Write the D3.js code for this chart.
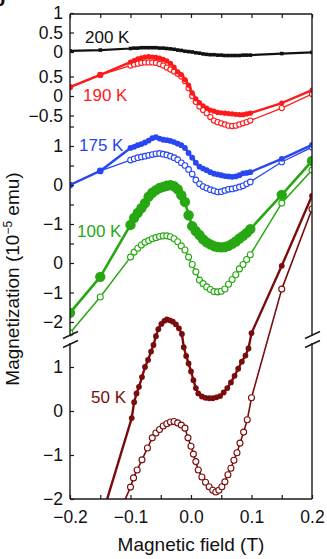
<!DOCTYPE html>
<html>
<head>
<meta charset="utf-8">
<script src="https://cdn.jsdelivr.net/npm/d3@7/dist/d3.min.js"></script>
<style>
  body { margin: 0; background: #fff; }
  svg { display: block; font-family: "Liberation Sans", Arial, sans-serif; }
</style>
</head>
<body>
<svg id="chart" width="327" height="559"></svg>
<script>
// ---- data (field in T, magnetization in 1e-5 emu, each curve relative to its own zero) ----
const xTickValues = [-0.2, -0.1, 0.0, 0.1, 0.2];
const xMinorTicks = [-0.2, -0.15, -0.1, -0.05, 0, 0.05, 0.1, 0.15, 0.2];

const ticks200 = [1, 0.5, 0];
const ticks190 = [0.5, 0, -0.5];
const ticks175 = [1, 0, -1];
const ticks100 = [0, -1, -2];
const ticks50 = [1, 0, -1, -2];

const k200 = [[-0.2, 0.03], [-0.15, 0.05], [-0.1, 0.09], [-0.094, 0.1], [-0.088, 0.1], [-0.082, 0.11], [-0.076, 0.11],
  [-0.07, 0.11], [-0.064, 0.11], [-0.058, 0.11], [-0.052, 0.1], [-0.046, 0.1], [-0.04, 0.09], [-0.034, 0.08],
  [-0.028, 0.07], [-0.022, 0.05], [-0.016, 0.04], [-0.01, 0.02], [-0.004, 0.01], [0.002, 0.0], [0.008, -0.02],
  [0.014, -0.03], [0.02, -0.05], [0.026, -0.06], [0.032, -0.07], [0.038, -0.07], [0.044, -0.08], [0.05, -0.08],
  [0.056, -0.09], [0.062, -0.09], [0.068, -0.09], [0.074, -0.09], [0.08, -0.09], [0.086, -0.08], [0.092, -0.08],
  [0.098, -0.08], [0.15, -0.04], [0.2, -0.01]];

const k190Filled = [[-0.2, 0.23], [-0.15, 0.54], [-0.1, 0.87], [-0.094, 0.91], [-0.088, 0.95], [-0.082, 0.98],
  [-0.076, 1.0], [-0.07, 1.01], [-0.064, 1.0], [-0.058, 0.99], [-0.052, 0.97], [-0.046, 0.94], [-0.04, 0.9],
  [-0.034, 0.84], [-0.028, 0.74], [-0.022, 0.62], [-0.016, 0.55], [-0.01, 0.42], [-0.004, 0.28], [0.002, 0.08],
  [0.008, -0.07], [0.014, -0.17], [0.02, -0.25], [0.026, -0.31], [0.032, -0.36], [0.038, -0.39], [0.044, -0.42],
  [0.05, -0.43], [0.056, -0.44], [0.062, -0.45], [0.068, -0.46], [0.074, -0.47], [0.08, -0.48], [0.086, -0.48],
  [0.092, -0.46], [0.098, -0.44], [0.15, -0.18], [0.2, 0.15]];

const k190Open = [[-0.2, 0.23], [-0.15, 0.54], [-0.1, 0.78], [-0.094, 0.81], [-0.088, 0.83], [-0.082, 0.85],
  [-0.076, 0.86], [-0.07, 0.86], [-0.064, 0.86], [-0.058, 0.85], [-0.052, 0.82], [-0.046, 0.78], [-0.04, 0.73],
  [-0.034, 0.68], [-0.028, 0.63], [-0.022, 0.57], [-0.016, 0.5], [-0.01, 0.38], [-0.004, 0.2], [0.002, 0.0],
  [0.008, -0.15], [0.014, -0.27], [0.02, -0.36], [0.026, -0.44], [0.032, -0.54], [0.038, -0.63], [0.044, -0.67],
  [0.05, -0.7], [0.056, -0.73], [0.062, -0.76], [0.068, -0.77], [0.074, -0.76], [0.08, -0.73], [0.086, -0.7],
  [0.092, -0.67], [0.098, -0.63], [0.15, -0.31], [0.2, 0.05]];

const k175Filled = [[-0.2, 0.0], [-0.15, 0.36], [-0.1, 0.95], [-0.094, 0.98], [-0.088, 1.02], [-0.082, 1.05],
  [-0.076, 1.09], [-0.07, 1.14], [-0.064, 1.2], [-0.058, 1.23], [-0.052, 1.19], [-0.046, 1.16], [-0.04, 1.15],
  [-0.034, 1.13], [-0.028, 1.1], [-0.022, 1.06], [-0.016, 1.02], [-0.01, 0.95], [-0.004, 0.82], [0.002, 0.7],
  [0.008, 0.57], [0.014, 0.47], [0.02, 0.42], [0.026, 0.38], [0.032, 0.33], [0.038, 0.29], [0.044, 0.27],
  [0.05, 0.25], [0.056, 0.23], [0.062, 0.22], [0.068, 0.21], [0.074, 0.22], [0.08, 0.25], [0.086, 0.3],
  [0.092, 0.31], [0.098, 0.33], [0.15, 0.67], [0.2, 1.03]];

const k175Open = [[-0.2, 0.0], [-0.15, 0.36], [-0.1, 0.64], [-0.094, 0.67], [-0.088, 0.7], [-0.082, 0.72],
  [-0.076, 0.74], [-0.07, 0.76], [-0.064, 0.78], [-0.058, 0.8], [-0.052, 0.81], [-0.046, 0.79], [-0.04, 0.77],
  [-0.034, 0.74], [-0.028, 0.7], [-0.022, 0.65], [-0.016, 0.57], [-0.01, 0.5], [-0.004, 0.4], [0.002, 0.28],
  [0.008, 0.13], [0.014, 0.03], [0.02, -0.04], [0.026, -0.08], [0.032, -0.12], [0.038, -0.15], [0.044, -0.18],
  [0.05, -0.17], [0.056, -0.14], [0.062, -0.11], [0.068, -0.1], [0.074, -0.08], [0.08, -0.05], [0.086, -0.02],
  [0.092, 0.03], [0.098, 0.08], [0.15, 0.59], [0.2, 0.97]];

const k100Filled = [[-0.2, -1.69], [-0.15, -0.47], [-0.1, 1.29], [-0.094, 1.53], [-0.088, 1.7], [-0.082, 1.86],
  [-0.076, 2.03], [-0.07, 2.25], [-0.064, 2.38], [-0.058, 2.47], [-0.052, 2.54], [-0.046, 2.58], [-0.04, 2.62],
  [-0.034, 2.64], [-0.028, 2.6], [-0.022, 2.5], [-0.016, 2.3], [-0.01, 2.07], [-0.004, 1.62], [0.002, 1.25],
  [0.008, 1.08], [0.014, 0.95], [0.02, 0.8], [0.026, 0.7], [0.032, 0.63], [0.038, 0.57], [0.044, 0.54],
  [0.05, 0.53], [0.056, 0.54], [0.062, 0.58], [0.068, 0.65], [0.074, 0.73], [0.08, 0.83], [0.086, 0.92],
  [0.092, 1.02], [0.098, 1.15], [0.15, 2.31], [0.2, 3.46]];

const k100Open = [[-0.2, -2.37], [-0.15, -1.15], [-0.1, 0.2], [-0.094, 0.37], [-0.088, 0.5], [-0.082, 0.61],
  [-0.076, 0.7], [-0.07, 0.76], [-0.064, 0.82], [-0.058, 0.86], [-0.052, 0.9], [-0.046, 0.92], [-0.04, 0.92],
  [-0.034, 0.89], [-0.028, 0.82], [-0.022, 0.72], [-0.016, 0.58], [-0.01, 0.44], [-0.004, 0.2], [0.002, -0.05],
  [0.008, -0.3], [0.014, -0.58], [0.02, -0.7], [0.026, -0.81], [0.032, -0.9], [0.038, -0.97], [0.044, -0.98],
  [0.05, -0.96], [0.056, -0.88], [0.062, -0.72], [0.068, -0.56], [0.074, -0.4], [0.08, -0.2], [0.086, -0.05],
  [0.092, 0.12], [0.098, 0.28], [0.15, 2.03], [0.2, 3.15]];

const k50Filled = [[-0.15, -2.52], [-0.098, -0.16], [-0.094, 0.2], [-0.09, 0.4], [-0.086, 0.55], [-0.081, 0.77],
  [-0.076, 1.0], [-0.071, 1.16], [-0.066, 1.35], [-0.062, 1.5], [-0.058, 1.7], [-0.054, 1.86], [-0.049, 1.98],
  [-0.044, 2.05], [-0.04, 2.08], [-0.035, 2.06], [-0.03, 2.03], [-0.025, 1.97], [-0.02, 1.88], [-0.015, 1.75],
  [-0.012, 1.45], [-0.008, 1.25], [-0.004, 1.08], [0.0, 0.9], [0.004, 0.7], [0.008, 0.52], [0.012, 0.4],
  [0.018, 0.33], [0.024, 0.3], [0.03, 0.29], [0.036, 0.29], [0.042, 0.31], [0.048, 0.34], [0.054, 0.42],
  [0.06, 0.52], [0.066, 0.65], [0.072, 0.8], [0.078, 0.96], [0.084, 1.12], [0.09, 1.26], [0.095, 1.42],
  [0.1, 1.77], [0.15, 3.3], [0.2, 4.89]];

const k50Open = [[-0.15, -3.3], [-0.1, -1.73], [-0.095, -1.52], [-0.089, -1.34], [-0.081, -1.11], [-0.072, -0.84],
  [-0.064, -0.61], [-0.058, -0.5], [-0.052, -0.42], [-0.046, -0.34], [-0.04, -0.29], [-0.034, -0.25],
  [-0.028, -0.24], [-0.022, -0.27], [-0.016, -0.32], [-0.01, -0.39], [-0.005, -0.61], [0.0, -0.8], [0.004, -0.98],
  [0.008, -1.15], [0.012, -1.34], [0.018, -1.5], [0.024, -1.62], [0.03, -1.72], [0.036, -1.8], [0.041, -1.84],
  [0.046, -1.8], [0.051, -1.72], [0.056, -1.61], [0.061, -1.45], [0.066, -1.3], [0.071, -1.12], [0.076, -0.95],
  [0.081, -0.73], [0.087, -0.48], [0.093, -0.2], [0.1, 0.3], [0.15, 2.77], [0.2, 4.59]];

// ---- layout ----
const svg = d3.select('#chart');
const plot = { left: 70, right: 312, top: 14, bottom: 499, breakTop: 335, breakBottom: 344 };
const x = d3.scaleLinear().domain([-0.2, 0.2]).range([plot.left, plot.right]);

// each curve gets its own vertical scale (zero position and px per unit)
function panelScale(zero, unit) {
  return d3.scaleLinear().domain([0, 1]).range([zero, zero - unit]);
}

const panels = [
  { label: '200 K', color: '#111111', y: panelScale(52, 39), ticks: ticks200, lx: 85, ly: 43,
    series: [{ data: k200, marker: 'square', r: 1.8, width: 2.2 }] },
  { label: '190 K', color: '#ff1a1a', y: panelScale(96, 39), ticks: ticks190, lx: 83, ly: 101,
    series: [{ data: k190Open, marker: 'open', r: 2.6, width: 1.3 },
             { data: k190Filled, marker: 'filled', r: 2.6, width: 2.4 }] },
  { label: '175 K', color: '#2846f2', y: panelScale(185, 39), ticks: ticks175, lx: 79, ly: 151,
    series: [{ data: k175Open, marker: 'open', r: 2.8, width: 1.3 },
             { data: k175Filled, marker: 'filled', r: 2.9, width: 2.4 }] },
  { label: '100 K', color: '#27a812', y: panelScale(263, 29.5), ticks: ticks100, lx: 77, ly: 237,
    series: [{ data: k100Open, marker: 'open', r: 3, width: 1.5 },
             { data: k100Filled, marker: 'filled', r: 5.2, width: 2.6 }] },
  { label: '50 K', color: '#7a0c0c', y: panelScale(411, 44), ticks: ticks50, lx: 91, ly: 403,
    series: [{ data: k50Open, marker: 'open', r: 3, width: 1.6 },
             { data: k50Filled, marker: 'filled', r: 2.9, width: 2.4 }] },
];

svg.append('defs').append('clipPath').attr('id', 'clip')
  .append('rect').attr('x', plot.left).attr('y', plot.top)
  .attr('width', plot.right - plot.left).attr('height', plot.bottom - plot.top);

const curves = svg.append('g').attr('clip-path', 'url(#clip)');

panels.forEach(function(p) {
  const line = d3.line().x(d => x(d[0])).y(d => p.y(d[1]));
  p.series.forEach(function(s) {
    const g = curves.append('g');
    g.append('path').datum(s.data)
      .attr('d', line).attr('fill', 'none')
      .attr('stroke', p.color).attr('stroke-width', s.width).attr('stroke-linejoin', 'round');
    if (s.marker === 'square') {
      g.selectAll('rect').data(s.data).enter().append('rect')
        .attr('x', d => x(d[0]) - s.r).attr('y', d => p.y(d[1]) - s.r)
        .attr('width', s.r * 2).attr('height', s.r * 2).attr('fill', p.color);
    } else {
      g.selectAll('circle').data(s.data).enter().append('circle')
        .attr('cx', d => x(d[0])).attr('cy', d => p.y(d[1])).attr('r', s.r)
        .attr('fill', s.marker === 'open' ? '#fff' : p.color)
        .attr('stroke', p.color).attr('stroke-width', s.marker === 'open' ? 1.1 : 0);
    }
  });
});

// ---- axes ----
const axisColor = '#1a1a1a';
const fmtY = d3.format('~g');

panels.forEach(function(p) {
  const g = svg.append('g').attr('transform', 'translate(' + plot.left + ',0)')
    .call(d3.axisLeft(p.y).tickValues(p.ticks).tickSizeInner(-4).tickSizeOuter(0).tickPadding(7).tickFormat(fmtY));
  g.select('.domain').remove();
  g.selectAll('line').attr('stroke', axisColor).attr('stroke-width', 1.2);
  g.selectAll('text').attr('font-size', 17.5).attr('fill', '#111');
  // panel label
  svg.append('text').attr('x', p.lx).attr('y', p.ly)
    .attr('font-size', 17).attr('fill', p.color).text(p.label);
});

// extra half-unit ticks on the 175 K curve
svg.append('g').attr('transform', 'translate(' + plot.left + ',0)')
  .call(d3.axisLeft(panels[2].y).tickValues([1.5, 0.5, -0.5, -1.5]).tickSizeInner(-4).tickSizeOuter(0).tickFormat(''))
  .call(g => g.select('.domain').remove())
  .selectAll('line').attr('stroke', axisColor).attr('stroke-width', 1.2);

const xb = svg.append('g').attr('transform', 'translate(0,' + plot.bottom + ')')
  .call(d3.axisBottom(x).tickValues(xMinorTicks).tickSizeInner(-4).tickSizeOuter(0).tickPadding(12)
    .tickFormat(d => xTickValues.some(v => Math.abs(v - d) < 1e-9) ? d3.format('.1f')(d) : ''));
xb.select('.domain').remove();
xb.selectAll('line').attr('stroke', axisColor).attr('stroke-width', 1.2);
xb.selectAll('text').attr('font-size', 17.5).attr('fill', '#111');

const xt = svg.append('g').attr('transform', 'translate(0,' + plot.top + ')')
  .call(d3.axisTop(x).tickValues(xMinorTicks).tickSizeInner(-4).tickSizeOuter(0).tickFormat(''));
xt.select('.domain').remove();
xt.selectAll('line').attr('stroke', axisColor).attr('stroke-width', 1.2);

// frame with broken vertical spines
const frame = svg.append('g').attr('stroke', axisColor).attr('stroke-width', 1.4).attr('fill', 'none');
frame.append('line').attr('x1', plot.left).attr('x2', plot.right).attr('y1', plot.top).attr('y2', plot.top);
frame.append('line').attr('x1', plot.left).attr('x2', plot.right).attr('y1', plot.bottom).attr('y2', plot.bottom);
[plot.left, plot.right].forEach(function(sx) {
  frame.append('line').attr('x1', sx).attr('x2', sx).attr('y1', plot.top).attr('y2', plot.breakTop + 1);
  frame.append('line').attr('x1', sx).attr('x2', sx).attr('y1', plot.breakBottom - 1).attr('y2', plot.bottom);
  frame.append('line').attr('x1', sx - 7).attr('x2', sx + 8).attr('y1', plot.breakTop + 3.5).attr('y2', plot.breakTop - 3.5);
  frame.append('line').attr('x1', sx - 7).attr('x2', sx + 8).attr('y1', plot.breakBottom + 3.5).attr('y2', plot.breakBottom - 3.5);
});

// titles
svg.append('text').attr('x', 191).attr('y', 551).attr('text-anchor', 'middle')
  .attr('font-size', 19).attr('fill', '#111').text('Magnetic field (T)');

const yt = svg.append('text').attr('transform', 'translate(19,279) rotate(-90)')
  .attr('text-anchor', 'middle').attr('font-size', 19).attr('fill', '#111');
yt.append('tspan').text('Magnetization (10');
yt.append('tspan').attr('font-size', 12).attr('dy', -7).text('\u22125');
yt.append('tspan').attr('dy', 7).text(' emu)');

// panel letter, cut by the page edge
svg.append('text').attr('x', -7).attr('y', 6).attr('font-size', 20).attr('font-weight', 'bold')
  .attr('fill', '#111').text('b');
</script>
</body>
</html>
